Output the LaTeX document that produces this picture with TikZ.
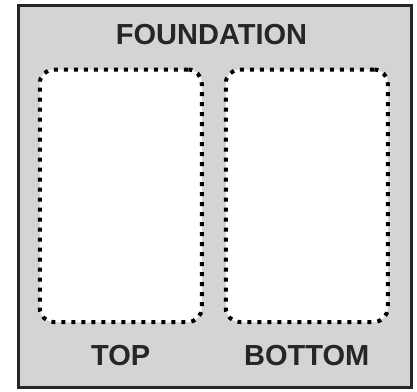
\documentclass[tikz,border=0pt]{standalone}
\usepackage{fontspec}
\setmainfont{Liberation Sans}
\usetikzlibrary{positioning}
\definecolor{slabgray}{RGB}{211,212,214}
\tikzset{
  frame/.style={
    rectangle, draw=black!85, fill=slabgray, line width=3pt, inner sep=0pt
  },
  zone/.style={
    rectangle, rounded corners=14pt, draw=black, fill=white,
    line width=4pt, dash pattern=on 4pt off 6pt,
    minimum width=162pt, minimum height=252.5pt, inner sep=0pt
  },
  caption/.style={
    font=\fontsize{29}{29}\selectfont\bfseries, text=black!85, inner sep=0pt
  },
}

\begin{document}
\begin{tikzpicture}[x=1pt, y=-1pt]
  \useasboundingbox (0,0) rectangle (417,391);

  % Foundation slab
  \node[frame, minimum width=393pt, minimum height=382pt] (slab) at (215,196.5) {};

  % Dotted zones
  \node[zone] (topzone) at (120.75,195.75) {};
  \node[zone, right=20pt of topzone] (botzone) {};

  % Labels
  \node[caption] (found) at (211.5,34.7) {FOUNDATION};
  \node[caption, below=21pt of topzone] (toplbl) {TOP};
  \node[caption, below=21pt of botzone] (botlbl) {BOTTOM};

\end{tikzpicture}
\end{document}
